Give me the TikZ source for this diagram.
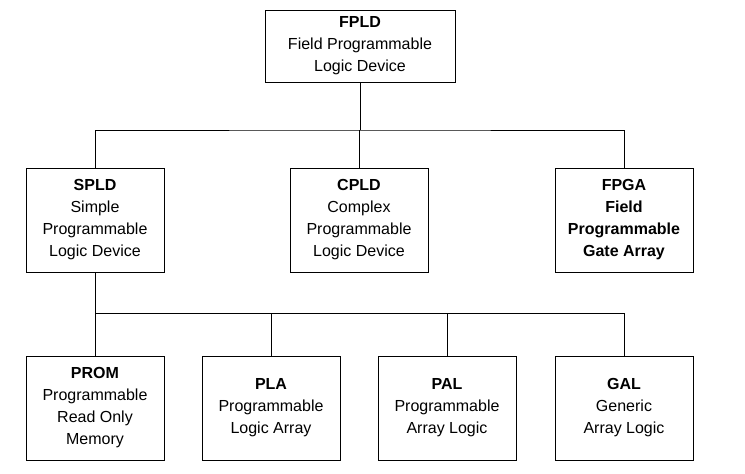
\documentclass[tikz,border=0pt]{standalone}
\usepackage{fontspec}
\setmainfont{Liberation Sans}
\tikzset{
  box/.style={draw, line width=0.8pt, align=center, inner sep=0pt,
    minimum width=138pt, minimum height=104pt,
    font=\fontsize{16}{22}\selectfont},
  link/.style={line width=0.8pt}
}
\begin{document}
\begin{tikzpicture}[x=1pt,y=1pt]
\useasboundingbox (0,0) rectangle (745,-474);
\node[box,minimum width=190pt,minimum height=72pt] (fpld) at (360,-46) {\textbf{FPLD}\\Field Programmable\\Logic Device};
\node[box] (spld) at (95,-220) {\textbf{SPLD}\\Simple\\Programmable\\Logic Device};
\node[box] (cpld) at (359,-220) {\textbf{CPLD}\\Complex\\Programmable\\Logic Device};
\node[box] (fpga) at (624,-220) {\textbf{FPGA}\\\textbf{Field}\\\textbf{Programmable}\\\textbf{Gate Array}};
\node[box] (prom) at (95,-408) {\textbf{PROM}\\Programmable\\Read Only\\Memory};
\node[box] (pla) at (271,-408) {\textbf{PLA}\\Programmable\\Logic Array};
\node[box] (pal) at (447,-408) {\textbf{PAL}\\Programmable\\Array Logic};
\node[box] (gal) at (624,-408) {\textbf{GAL}\\Generic\\Array Logic};
\coordinate (bus1) at (360,-130);
\coordinate (bus2) at (95,-313);
\draw[link] (fpld.south) -- (bus1);
\draw[link] (spld.north) |- (bus1) -| (fpga.north);
\draw[link] (cpld.north) -- (cpld.north |- bus1);
\draw[link] (spld.south) -- (prom.north);
\draw[link] (bus2) -| (gal.north);
\draw[link] (pla.north) -- (pla.north |- bus2);
\draw[link] (pal.north) -- (pal.north |- bus2);
\end{tikzpicture}
\end{document}
